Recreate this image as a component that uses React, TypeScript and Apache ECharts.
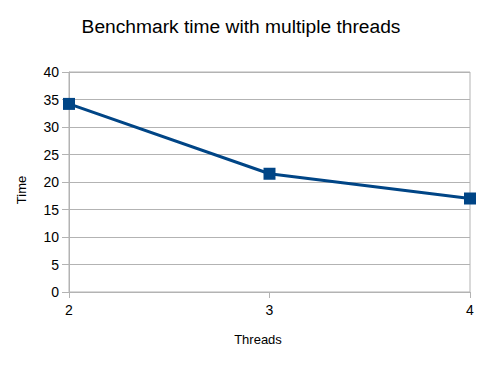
import React, { useEffect, useRef } from "react";
import * as echarts from "echarts";

const categories = ["2", "3", "4"];
const timeValues = [34.2, 21.5, 17.0];
const yTicks = { min: 0, max: 40, interval: 5 };

export default function App() {
  const ref = useRef<HTMLDivElement>(null);
  useEffect(() => {
    if (!ref.current) return;
    const chart = echarts.init(ref.current, null, { renderer: "svg" });
    const font = "'Liberation Sans', Arial, sans-serif";
    chart.setOption({
      animation: false,
      backgroundColor: "#ffffff",
      title: {
        text: "Benchmark time with multiple threads",
        left: 236,
        textAlign: "center",
        top: 12,
        textStyle: { fontFamily: font, fontSize: 19.2, fontWeight: "normal", color: "#000" },
      },
      grid: {
        left: 69,
        right: 22,
        top: 72,
        bottom: 74,
        show: true,
        borderColor: "#b3b3b3",
        borderWidth: 1,
        backgroundColor: "transparent",
      },
      graphic: [
        {
          type: "text",
          x: 258,
          y: 339,
          style: {
            text: "Threads",
            fontFamily: font,
            fontSize: 13,
            fill: "#000",
            textAlign: "center",
            textVerticalAlign: "middle",
          },
        },
        {
          type: "text",
          x: 21,
          y: 190,
          rotation: Math.PI / 2,
          style: {
            text: "Time",
            fontFamily: font,
            fontSize: 13,
            fill: "#000",
            textAlign: "center",
            textVerticalAlign: "middle",
          },
        },
      ],
      xAxis: {
        type: "category",
        data: categories,
        boundaryGap: false,
        axisLine: { show: true, lineStyle: { color: "#b3b3b3" } },
        axisTick: { show: true, length: 6, lineStyle: { color: "#b3b3b3" } },
        axisLabel: { fontFamily: font, fontSize: 14, color: "#000", margin: 11 },
        splitLine: { show: false },
      },
      yAxis: {
        type: "value",
        min: yTicks.min,
        max: yTicks.max,
        interval: yTicks.interval,
        axisLine: { show: true, lineStyle: { color: "#b3b3b3" } },
        axisTick: { show: true, length: 7, lineStyle: { color: "#b3b3b3" } },
        axisLabel: { fontFamily: font, fontSize: 14, color: "#000", margin: 10 },
        splitLine: { show: true, lineStyle: { color: "#b3b3b3" } },
      },
      series: [
        {
          type: "line",
          data: timeValues,
          symbol: "rect",
          symbolSize: 12,
          lineStyle: { color: "#004586", width: 3 },
          itemStyle: { color: "#004586" },
        },
      ],
    });
    return () => chart.dispose();
  }, []);
  return <div ref={ref} style={{ width: 492, height: 366, position: "absolute", left: 0, top: 0 }} />;
}
